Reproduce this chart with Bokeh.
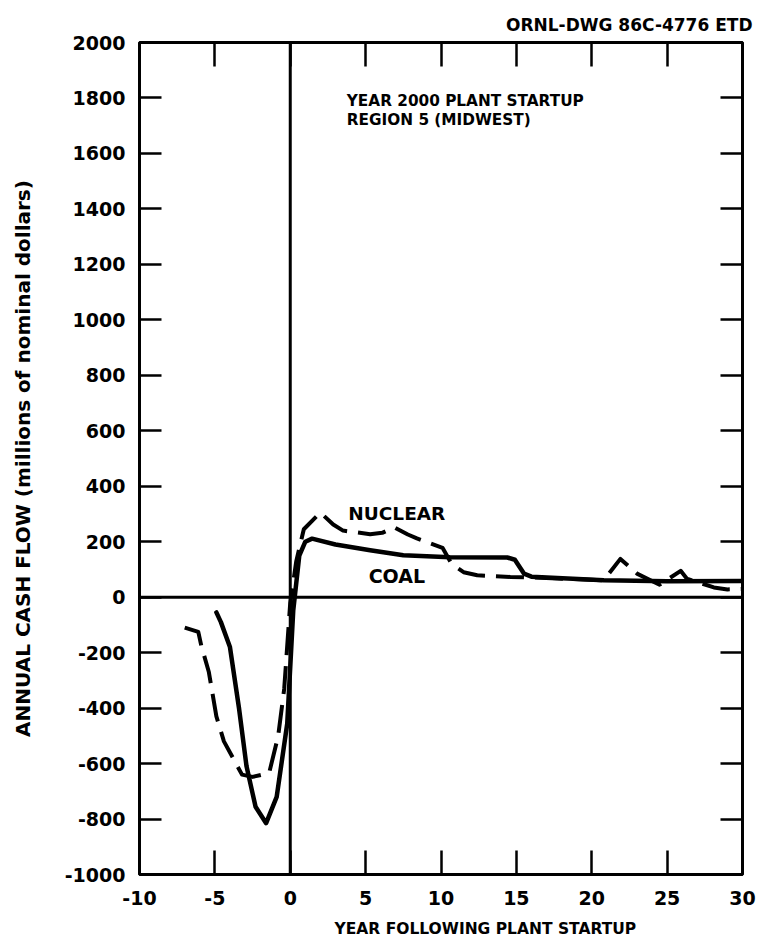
from bokeh.plotting import figure
from bokeh.models import Span, Label, FixedTicker, LinearAxis, Title
from bokeh.embed import file_html
from bokeh.resources import INLINE

# Annual cash flow (millions of nominal dollars) by year relative to plant startup
coal_year = [-4.9, -4.6, -4.0, -3.4, -2.9, -2.3, -1.6, -0.9, -0.2, 0.2, 0.6, 1.0, 1.45,
             3.0, 5.3, 7.5, 10.6, 14.4, 14.9, 15.5, 16.0, 20.8, 25.0, 30.0]
coal_flow = [-55, -90, -180, -400, -610, -756, -815, -720, -456, -47, 150, 200, 211,
             190, 169, 151, 144, 143, 135, 85, 74, 61, 57, 58]

nuclear_year = [-7.0, -6.1, -5.9, -5.4, -4.9, -4.4, -3.8, -3.2, -2.5, -1.4, -0.8, -0.4,
                0.0, 0.4, 0.9, 2.0, 2.85, 3.5, 5.3, 6.1, 6.9, 7.8, 8.4, 10.1, 10.7,
                11.5, 12.4, 14.6, 15.5, 20.8, 21.9, 23.0, 24.5, 25.9, 26.3, 28.1, 29.0, 30.0]
nuclear_flow = [-110, -125, -175, -270, -430, -520, -580, -640, -648, -634, -500, -330,
                -20, 130, 245, 305, 262, 240, 227, 232, 252, 226, 212, 178, 120,
                90, 79, 73, 72, 61, 138, 85, 45, 95, 67, 35, 28, 30]

x_ticks = [-10, -5, 0, 5, 10, 15, 20, 25, 30]
y_ticks = list(range(-1000, 2001, 200))

FONT = "DejaVu Sans"

p = figure(
    x_range=(-10, 30), y_range=(-1000, 2000),
    frame_width=603, frame_height=832,
    min_border_left=139, min_border_right=19, min_border_top=42, min_border_bottom=71,
    output_backend="svg", toolbar_location=None,
    x_axis_location=None, y_axis_location=None,
)
p.background_fill_color = "white"
p.border_fill_color = "white"
p.grid.visible = False
p.outline_line_color = "black"
p.outline_line_width = 3

# drawing number at the top right
p.title.text = "ORNL-DWG 86C-4776 ETD"
p.title.align = "right"
p.title.offset = -10
p.title.text_font = FONT
p.title.text_font_style = "bold"
p.title.text_font_size = "17px"
p.title.text_color = "black"
p.title.standoff = 16


def make_axis(ticks, labels, tick_len):
    ax = LinearAxis(ticker=FixedTicker(ticks=ticks))
    ax.axis_line_color = None
    ax.major_tick_in = tick_len
    ax.major_tick_out = 0
    ax.major_tick_line_width = 2.5
    ax.major_tick_line_color = "black"
    ax.minor_tick_line_color = None
    ax.major_label_text_font = FONT
    ax.major_label_text_font_style = "bold"
    ax.major_label_text_font_size = "19px"
    ax.major_label_text_color = "black"
    ax.major_label_overrides = {t: str(t) for t in ticks}
    if not labels:
        ax.major_label_text_font_size = "0px"
        ax.major_label_text_color = None
        ax.major_label_standoff = 0
    return ax


bottom = make_axis(x_ticks, True, 24)
bottom.major_label_standoff = 16
p.add_layout(bottom, "below")

p.add_layout(Title(text="YEAR FOLLOWING PLANT STARTUP", align="left", offset=195,
                   text_font=FONT, text_font_style="bold", text_font_size="15.5px",
                   text_color="black", standoff=21), "below")

top = make_axis(x_ticks, False, 24)
p.add_layout(top, "above")

left = make_axis(y_ticks, True, 22)
left.major_label_standoff = 14
left.axis_label = "ANNUAL CASH FLOW (millions of nominal dollars)"
left.axis_label_text_font = FONT
left.axis_label_text_font_style = "bold"
left.axis_label_text_font_size = "20px"
left.axis_label_text_color = "black"
left.axis_label_standoff = 27
p.add_layout(left, "left")

right = make_axis(y_ticks, False, 22)
p.add_layout(right, "right")

# zero reference lines
p.add_layout(Span(location=0, dimension="width", line_color="black", line_width=3))
p.add_layout(Span(location=0, dimension="height", line_color="black", line_width=3))

p.line(coal_year, coal_flow, line_color="black", line_width=4.5,
       line_join="round", line_cap="round")
p.line(nuclear_year, nuclear_flow, line_color="black", line_width=4,
       line_dash="28 11", line_join="round", line_cap="butt")


def note(x, y, text, size):
    p.add_layout(Label(x=x, y=y, text=text, text_font=FONT, text_font_style="bold",
                       text_font_size=size, text_color="black", text_align="left",
                       text_baseline="alphabetic"))


note(3.75, 1790, "YEAR 2000 PLANT STARTUP", "15.3px")
note(3.75, 1720, "REGION 5 (MIDWEST)", "15.3px")
note(3.85, 300, "NUCLEAR", "18.5px")
note(5.2, 77, "COAL", "19px")

open("out.html", "w").write(file_html(p, INLINE))
